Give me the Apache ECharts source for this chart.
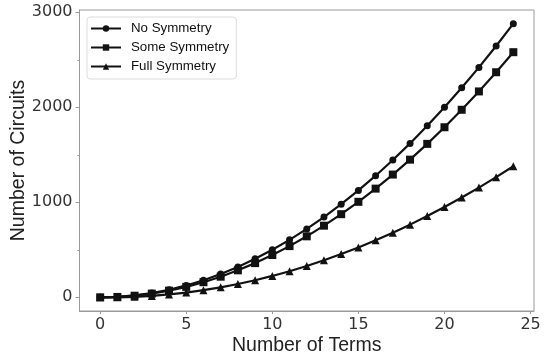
<!DOCTYPE html>
<html><head><meta charset="utf-8">
<script src="https://cdn.jsdelivr.net/npm/echarts@6/dist/echarts.min.js"></script>
<style>html,body{margin:0;padding:0;background:#fff}#c{width:546px;height:356px}</style>
</head><body><div id="c"></div>
<script>
const terms = [0,1,2,3,4,5,6,7,8,9,10,11,12,13,14,15,16,17,18,19,20,21,22,23,24];
const noSymmetry = [0,5,20,45,80,125,180,245,320,405,500,605,720,845,980,1125,1280,1445,1620,1805,2000,2205,2420,2645,2880];
const someSymmetry = [0,4,17,39,70,110,159,217,284,360,445,539,642,754,875,1005,1144,1292,1449,1615,1790,1974,2167,2369,2580];
const fullSymmetry = [0,0,5,15,30,50,75,105,140,180,225,275,330,390,455,525,600,680,765,855,950,1050,1155,1265,1380];
const xTicks = [0,5,10,15,20,25];
const yTicks = [0,1000,2000,3000];
const yMinorTicks = [500,1500,2500];
const seriesNames = ['No Symmetry','Some Symmetry','Full Symmetry'];

const pair = arr => terms.map((t,i)=>[t,arr[i]]);
const tickFont = {fontFamily:'DejaVu Sans', fontSize:16, color:'#333', formatter: v => String(v)};
const titleFont = {fontFamily:'Liberation Sans', fontSize:19.5, color:'#222'};
const chart = echarts.init(document.getElementById('c'), null, {renderer:'canvas'});
const mk = (name, data, symbol, size) => ({
  name, type:'line', data: pair(data), symbol, symbolSize:size,
  lineStyle:{color:'#111', width:2.2}, itemStyle:{color:'#111'},
  animation:false, z:3
});
chart.setOption({
  animation:false,
  grid:{left:79.5, right:12, top:10, bottom:45, containLabel:false, outerBoundsMode:'none',
        show:true, borderColor:'#9a9a9a', borderWidth:1},
  legend:{
    orient:'vertical', left:87, top:17, itemWidth:30, itemHeight:8, itemGap:6,
    padding:[5,7,6,3], borderColor:'#dcdcdc', borderWidth:1, borderRadius:3,
    textStyle:{fontFamily:'Liberation Sans', fontSize:13.3, color:'#111', padding:[0,0,0,5]},
    data: seriesNames
  },
  xAxis:{
    type:'value', min:-1.2, max:25.2,
    name:'Number of Terms', nameLocation:'middle', nameGap:25, nameMoveOverlap:false,
    nameTextStyle:titleFont,
    axisLine:{onZero:false, lineStyle:{color:'#9a9a9a'}},
    axisTick:{show:true, length:3, customValues:xTicks, lineStyle:{color:'#9a9a9a'}},
    axisLabel:{customValues:xTicks, margin:6, ...tickFont},
    splitLine:{show:false}
  },
  yAxis:[{
    type:'value', min:-144, max:3024,
    name:'Number of Circuits', nameLocation:'middle', nameGap:51, nameMoveOverlap:false,
    nameTextStyle:titleFont,
    axisLine:{show:true, onZero:false, lineStyle:{color:'#9a9a9a'}},
    axisTick:{show:true, length:4, customValues:yTicks, lineStyle:{color:'#9a9a9a'}},
    axisLabel:{customValues:yTicks, margin:7, ...tickFont},
    splitLine:{show:false}
  },{
    type:'value', min:-144, max:3024, position:'left', offset:0,
    axisLine:{show:false, onZero:false},
    axisTick:{show:true, length:2, customValues:yMinorTicks, lineStyle:{color:'#9a9a9a'}},
    axisLabel:{show:false}, splitLine:{show:false}
  }],
  series:[
    mk(seriesNames[0], noSymmetry, 'circle', 7),
    mk(seriesNames[1], someSymmetry, 'rect', 8),
    mk(seriesNames[2], fullSymmetry, 'triangle', 8)
  ]
});
</script></body></html>
